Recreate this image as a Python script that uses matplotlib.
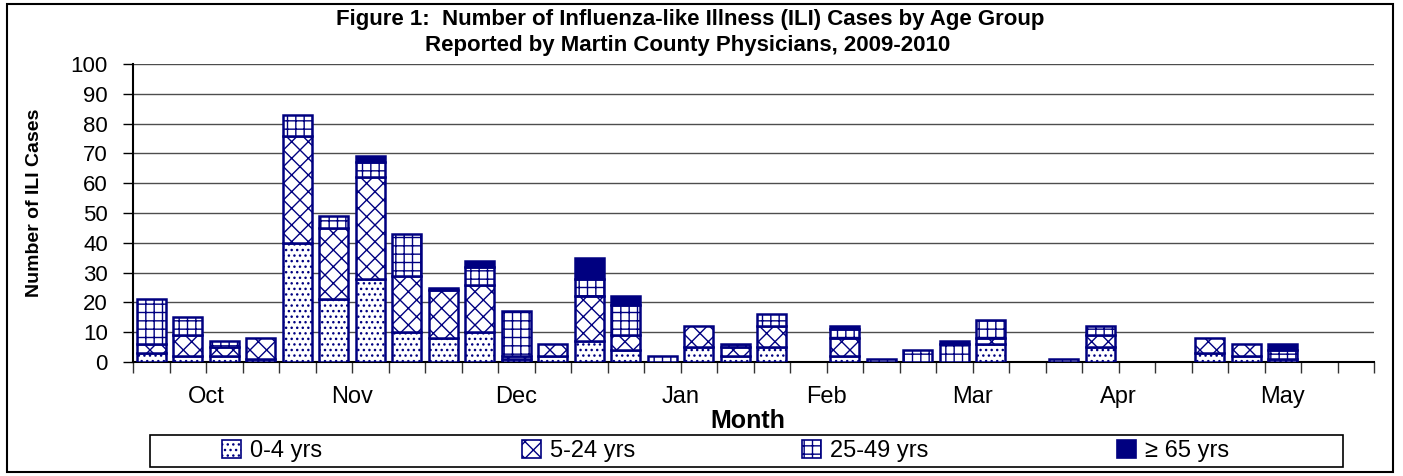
import numpy as np
import matplotlib
matplotlib.use("Agg")
import matplotlib.pyplot as plt
from matplotlib.patches import Rectangle, Patch
import matplotlib.transforms as mtransforms

plt.rcParams['font.family'] = ['Liberation Sans', 'DejaVu Sans']
plt.rcParams['hatch.linewidth'] = 1.0

# weekly counts, one slot per reporting week (0 = no report)
age_groups = ['0-4 yrs', '5-24 yrs', '25-49 yrs', '\u2265 65 yrs']
age_0_4 = [3, 2, 2, 1, 40, 21, 28, 10, 8, 10, 1, 2, 7, 4, 0, 5, 2,
           5, 0, 2, 0, 0, 0, 6, 0, 0, 5, 0, 0, 3, 2, 1, 0, 0]
age_5_24 = [3, 7, 3, 7, 36, 24, 34, 19, 16, 16, 1, 4, 15, 5, 0, 7, 3,
            7, 0, 6, 0, 0, 0, 2, 0, 0, 4, 0, 0, 5, 4, 0, 0, 0]
age_25_49 = [15, 6, 2, 0, 7, 4, 5, 14, 1, 6, 15, 0, 6, 10, 2, 0, 1,
             4, 0, 3, 1, 4, 6, 6, 0, 1, 3, 0, 0, 0, 0, 3, 0, 0]
age_65 = [0, 0, 0, 0, 0, 0, 2, 0, 0, 2, 0, 0, 7, 3, 0, 0, 0,
          0, 0, 1, 0, 0, 1, 0, 0, 0, 0, 0, 0, 0, 0, 2, 0, 0]

months = ['Oct', 'Nov', 'Dec', 'Jan', 'Feb', 'Mar', 'Apr', 'May']
weeks_per_month = [4, 4, 5, 4, 4, 4, 4, 5]

navy = '#000080'
hatches = ['...', 'xx', '++', None]
series = [age_0_4, age_5_24, age_25_49, age_65]

W, H = 1403, 476
fig = plt.figure(figsize=(W / 100, H / 100), dpi=100)
ax = fig.add_axes([133 / W, (H - 362) / H, (1374 - 133) / W, (362 - 64) / H])

x = np.arange(len(age_0_4))
bottom = np.zeros(len(x))
for vals, hatch in zip(series, hatches):
    vals = np.array(vals, dtype=float)
    fc = navy if hatch is None else 'white'
    keep = vals > 0
    ax.bar(x[keep], vals[keep], width=0.8, bottom=bottom[keep], facecolor=fc,
           edgecolor=navy, hatch=hatch, linewidth=1.8, zorder=3)
    bottom += vals

ax.set_xlim(-0.5, len(x) - 0.5)
ax.set_ylim(0, 100)
ax.set_yticks(np.arange(0, 101, 10))
ax.yaxis.grid(True, color='#4d4d4d', linewidth=1.0, zorder=0)
ax.tick_params(axis='y', length=7, width=1, pad=11, labelsize=16)

# week separators (short) and month separators (long)
ax.set_xticks(np.arange(len(x) + 1) - 0.5)
ax.set_xticklabels([])
ax.tick_params(axis='x', which='major', length=8, width=1, color='#333333')
edges = np.concatenate([[0], np.cumsum(weeks_per_month)]) - 0.5
ax.set_xticks(edges, minor=True)
ax.tick_params(axis='x', which='minor', length=34, width=1, color='#333333')

trans = mtransforms.blended_transform_factory(ax.transData, ax.transAxes)
for m, a, b in zip(months, edges[:-1], edges[1:]):
    ax.text((a + b) / 2, -0.118, m, transform=trans, ha='center', va='center',
            fontsize=17)

for s in ['top', 'right']:
    ax.spines[s].set_visible(False)
ax.spines['left'].set_linewidth(1.5)
ax.spines['bottom'].set_linewidth(1.5)

fig.text(690 / W, 1 - 19 / H,
         'Figure 1:  Number of Influenza-like Illness (ILI) Cases by Age Group',
         ha='center', va='center', fontsize=16, fontweight='bold')
fig.text(688 / W, 1 - 46 / H,
         'Reported by Martin County Physicians, 2009-2010',
         ha='center', va='center', fontsize=16, fontweight='bold')
fig.text(35 / W, 1 - 203 / H, 'Number of ILI Cases', rotation=90,
         ha='center', va='center', fontsize=14, fontweight='bold')
fig.text(748 / W, 1 - 421 / H, 'Month', ha='center', va='center',
         fontsize=18, fontweight='bold')

# legend: one entry per column position, inside a shared box
entry_x = [222, 522, 802, 1117]
for lab, h, ex in zip(age_groups, hatches, entry_x):
    handle = Patch(facecolor=(navy if h is None else 'white'), edgecolor=navy,
                   hatch=h, linewidth=1.2)
    leg = fig.legend([handle], [lab], frameon=False, loc='center left',
                     bbox_to_anchor=(ex / W, 1 - 451 / H), fontsize=17,
                     handlelength=0.8, handleheight=0.8, handletextpad=0.4,
                     borderpad=0, borderaxespad=0)
fig.add_artist(Rectangle((150 / W, 1 - 467 / H), (1343 - 150) / W, 32 / H,
                         transform=fig.transFigure, fill=False,
                         edgecolor='black', linewidth=1.2))
fig.add_artist(Rectangle((7 / W, 4 / H), (1393 - 7) / W, (472 - 4) / H,
                         transform=fig.transFigure, fill=False,
                         edgecolor='black', linewidth=1.5))

fig.savefig('out.png', dpi=100)
